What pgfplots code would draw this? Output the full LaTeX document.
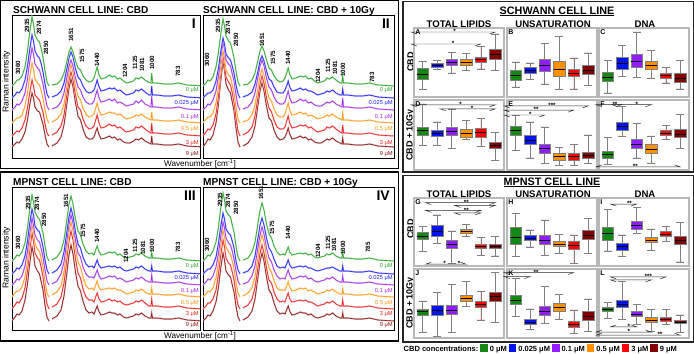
\documentclass[border=0pt]{standalone}
\usepackage{fontspec}
\setmainfont{Liberation Sans}
\usepackage{pgfplots}
\pgfplotsset{compat=1.18}
\usepgfplotslibrary{statistics}
\usepackage{pgfplotstable}

\definecolor{cg}{RGB}{40,165,40}
\definecolor{cb}{RGB}{30,30,255}
\definecolor{cp}{RGB}{160,40,230}
\definecolor{co}{RGB}{255,150,20}
\definecolor{cr}{RGB}{235,30,30}
\definecolor{cd}{RGB}{140,20,20}
\definecolor{fg}{RGB}{20,135,20}
\definecolor{fb}{RGB}{0,20,235}
\definecolor{fp}{RGB}{145,30,250}
\definecolor{fo}{RGB}{255,145,0}
\definecolor{fr}{RGB}{250,0,0}
\definecolor{fd}{RGB}{130,0,0}

\newcommand\fs[1]{\fontsize{#1bp}{#1bp}\selectfont}

% Schwann CBD (panel I): heights above each curve's own baseline
\pgfplotstableread{
u g b p o r d
0 0 0 0 0 0 0
3 3 3 3 3 3 3
5 6 6 6 5 5 5
7 6 5 5 5 4 4
10 10 9 9 8 8 8
13 19 18 17 17 16 15
15.5 35 32 31 30 28 27
17.5 52 47 47 45 42 41
20 69 63 62 60 56 54
21.5 62 57 56 54 50 49
23 51 47 46 44 41 40
25.5 46 42 42 40 38 36
27.5 44 40 40 38 36 35
29.5 36 33 32 31 29 28
31 29 26 26 25 24 23
33 15 14 14 13 12 12
35 4 4 4 4 3 3
37 0 0 0 0 0 0
38 nan nan nan nan nan nan
40 1 1 1 1 1 1
45 2 3 3 4 4 4
49 6 7 8 9 10 10
52 13 15 17 19 21 22
55 25 30 33 38 42 44
57 34 40 44 50 56 59
59 39 46 50 58 64 68
61 34 41 44 51 56 60
63.5 25 29 32 37 41 44
66 18 21 23 27 29 31
68.5 16 18 20 23 26 27
71 10 12 13 15 17 18
74 6 7 8 9 10 10
77 4 5 6 6 7 8
80 5 6 6 7 8 8
82 8 8 9 9 10 10
84 15 14 16 16 17 16
85.2 19 18 20 20 21 19
86.7 12 12 13 13 14 13
89 7 7 8 8 8 8
93 8 8 9 9 9 9
97.5 11 10 11 11 12 11
100 9 9 9 10 10 9
102.5 10 10 11 10 11 10
105.5 7 7 7 8 8 7
108 8 8 8 9 9 8
111.5 5 5 6 6 6 5
114.5 3 3 4 4 4 4
118 4 4 5 5 5 4
121.5 5 5 6 6 6 6
124 8 8 9 8 9 8
126.5 7 7 7 7 8 7
129.5 9 9 10 9 10 9
133 6 6 6 6 7 6
137 3.5 3 4 4 4 4
139 3 3 3 3 3 3
139.7 13 12 14 11 13 11
140.5 3 3 3 3 3 3
145 3 3 3 3 3 3
152 2 2 2 2 2 2
160 2 2 2 2 2 2
166.5 3 3 3 3 3 3
175 1 1 1 1 1 1
191 0 0 0 0 0 0
}\tabI

% Schwann CBD + 10Gy (panel II)
\pgfplotstableread{
u g b p o r d
0 0 0 0 0 0 0
3 3 3 3 4 4 4
5 6 5 6 6 7 8
7 5 5 5 6 6 7
10 9 8 10 10 11 12
13 19 17 19 20 22 24
15.5 34 30 34 36 40 43
17.5 50 45 51 54 60 64
20 67 60 68 72 80 85
21.5 60 54 61 65 72 77
23 50 44 50 53 59 63
25.5 45 40 46 48 54 57
27.5 43 38 44 46 51 54
29.5 35 31 35 37 42 44
31 28 25 29 30 34 36
33 15 13 15 16 18 19
35 4 4 4 4 5 5
37 0 0 0 0 0 0
38 nan nan nan nan nan nan
40 1 1 1 1 1 1
45 2 3 3 3 4 4
49 6 6 8 8 9 10
52 13 14 17 18 20 21
55 26 27 33 35 39 42
57 35 37 44 47 52 56
59 40 42 50 54 60 64
61 35 37 44 48 53 56
63.5 26 27 32 35 38 41
66 18 19 23 25 28 29
68.5 16 17 20 22 24 26
71 10 11 13 14 16 17
74 6 6 8 8 9 10
77 4 5 6 6 7 7
80 5 5 6 6 7 8
82 8 8 8 9 9 10
84 14 13 15 16 16 15
85.2 18 17 19 20 20 19
86.7 12 11 12 13 13 13
89 7 7 7 8 8 8
93 8 8 8 9 9 9
97.5 10 10 11 11 11 11
100 9 8 9 9 10 9
102.5 10 9 10 10 11 10
105.5 7 7 7 7 8 7
108 8 7 8 8 9 8
111.5 5 5 5 6 6 5
114.5 3 3 4 4 4 4
118 4 4 4 5 5 4
121.5 5 5 6 6 6 6
124 8 7 8 8 9 8
126.5 7 6 7 7 8 7
129.5 9 8 9 9 10 9
133 6 5 6 6 7 6
137 3 3 4 4 4 4
139 3 3 3 3 3 3
139.7 10 9 12 10 11 9
140.5 3 3 3 3 3 3
145 3 3 3 3 3 3
152 2 2 2 2 2 2
160 2 2 2 2 2 2
166.5 3 3 3 3 3 3
175 1 1 1 1 1 1
191 0 0 0 0 0 0
}\tabII

% MPNST CBD (panel III)
\pgfplotstableread{
u g b p o r d
0 0 0 0 0 0 0
3 3 3 3 4 4 4
5 6 6 6 6 7 7
7 5 5 5 6 6 6
10 9 9 9 10 11 10
13 18 18 19 20 21 21
15.5 33 33 34 36 38 37
17.5 50 49 50 54 57 56
20 66 65 67 72 76 74
21.5 59 59 60 65 68 67
23 49 48 50 53 56 55
25.5 44 44 45 48 51 50
27.5 42 42 43 46 49 47
29.5 34 34 35 37 40 38
31 28 27 28 30 32 31
33 15 14 15 16 17 16
35 4 4 4 4 5 4
37 0 0 0 0 0 0
38 nan nan nan nan nan nan
40 1 1 1 2 2 2
45 4 4 4 5 5 5
49 10 10 11 11 12 11
52 21 22 23 25 26 25
55 42 43 46 49 51 49
57 57 57 61 65 68 66
59 65 66 70 75 78 76
61 57 58 62 66 69 67
63.5 42 42 45 48 50 49
66 30 30 32 35 36 35
68.5 26 26 28 30 31 30
71 17 17 18 20 20 20
74 10 10 11 11 12 11
77 7 7 8 8 9 8
80 8 8 8 9 9 9
82 6 6 7 7 7 7
84 12 11 12 13 13 12
85.2 15 14 15 16 16 15
86.7 10 9 10 10 11 10
89 6 6 6 7 7 6
93 7 7 7 8 8 7
97.5 9 8 9 9 10 9
100 8 7 8 8 8 8
102.5 9 8 9 9 9 8
105.5 6 6 6 7 7 6
108 7 7 7 7 8 7
111.5 4 4 5 5 5 4
114.5 3 3 3 3 4 3
118 4 4 4 4 5 4
121.5 5 5 5 5 6 5
124 7 7 7 7 8 7
126.5 6 6 6 6 7 6
129.5 8 8 8 8 9 8
133 5 5 5 5 6 5
137 3 3 3 3 3 3
139 3 3 3 3 3 3
139.7 9 8 10 9 10 8
140.5 3 3 3 3 3 3
145 3 3 3 3 3 3
152 2 2 2 2 2 2
160 2 2 2 2 2 2
166.5 3 3 3 3 3 3
175 1 1 1 1 1 1
191 0 0 0 0 0 0
}\tabIII

% MPNST CBD + 10Gy (panel IV)
\pgfplotstableread{
u g b p o r d
0 0 0 0 0 0 0
3 3 3 3 3 3 3
5 6 5 6 6 6 6
7 5 5 5 5 6 5
10 10 9 9 9 10 10
13 19 17 18 19 19 19
15.5 34 31 32 34 35 34
17.5 51 46 47 50 52 51
20 68 61 63 67 69 68
21.5 61 55 57 60 62 61
23 50 45 47 50 51 50
25.5 46 41 42 45 46 46
27.5 44 39 40 43 44 44
29.5 35 32 33 35 36 35
31 29 26 26 28 29 29
33 15 13 14 15 15 15
35 4 4 4 4 4 4
37 0 0 0 0 0 0
38 nan nan nan nan nan nan
40 1 1 1 1 1 1
45 3 3 3 4 4 4
49 9 8 9 9 10 10
52 19 18 19 20 21 22
55 38 36 38 40 42 44
57 50 49 50 54 56 59
59 58 56 58 62 64 68
61 51 49 51 55 56 60
63.5 37 36 37 40 41 44
66 27 26 27 29 29 31
68.5 23 22 23 25 26 27
71 15 15 15 16 17 18
74 9 8 9 9 10 10
77 6 6 6 7 7 7
80 7 7 7 7 8 8
82 6 6 6 7 7 7
84 11 11 12 12 13 12
85.2 14 14 15 15 16 15
86.7 9 9 10 10 10 10
89 6 6 6 6 7 6
93 7 7 7 7 8 7
97.5 8 8 9 9 9 9
100 7 7 8 8 8 8
102.5 8 8 9 9 9 8
105.5 6 6 6 6 7 6
108 7 6 7 7 7 7
111.5 4 4 4 5 5 4
114.5 3 3 3 3 3 3
118 4 4 4 4 4 4
121.5 5 5 5 5 5 5
124 7 6 7 7 7 7
126.5 6 6 6 6 6 6
129.5 8 7 8 8 8 8
133 5 5 5 5 5 5
137 3 3 3 3 3 3
139 3 3 3 3 3 3
139.7 9 8 9 8 9 8
140.5 3 3 3 3 3 3
145 3 3 3 3 3 3
152 2 2 2 2 2 2
160 2 2 2 2 2 2
166.5 3 3 3 3 3 3
175 1 1 1 1 1 1
191 0 0 0 0 0 0
}\tabIV

\pgfplotsset{
  spx/.style={scale only axis, anchor=north west, height=143bp, xmin=0, ymin=0, ymax=143,
    xtick=\empty, ytick=\empty, axis line style={black, line width=0.7pt}, clip mode=individual},
  bxs/.style={scale only axis, anchor=north west, width=90bp, xmin=0.4, xmax=6.6, ymin=0,
    xtick=\empty, ytick=\empty, axis line style={black!28, line width=1.3pt}, clip=false,
    boxplot/draw direction=y},
  boxplot/every median/.style={draw=black, line width=0.5pt},
}

\newcommand\spc[4]{%
  \addplot[#3!35, line width=1.5pt, unbounded coords=jump] table[x=u, y expr=\thisrow{#2}+#4]{#1};
  \addplot[#3, line width=0.6pt, unbounded coords=jump] table[x=u, y expr=\thisrow{#2}+#4]{#1};}
\newcommand\sixS[1]{\spc{#1}{d}{cd}{11}\spc{#1}{r}{cr}{22}\spc{#1}{o}{co}{35}\spc{#1}{p}{cp}{48}\spc{#1}{b}{cb}{60}\spc{#1}{g}{cg}{72}}
\newcommand\sixM[1]{\spc{#1}{d}{cd}{9}\spc{#1}{r}{cr}{21}\spc{#1}{o}{co}{33}\spc{#1}{p}{cp}{45}\spc{#1}{b}{cb}{56}\spc{#1}{g}{cg}{69}}
\newcommand\cl[4]{\node[anchor=east, inner sep=0, text=#1, font=\fs{5.8}] at (axis cs:#2,#3) {#4};}
\newcommand\concS[1]{\cl{cg}{#1}{67.5}{0 μM}\cl{cb}{#1}{54.5}{0.025 μM}\cl{cp}{#1}{40.5}{0.1 μM}\cl{co}{#1}{28.5}{0.5 μM}\cl{cr}{#1}{14.5}{3 μM}\cl{cd}{#1}{3.8}{9 μM}}
\newcommand\concM[1]{\cl{cg}{#1}{63.5}{0 μM}\cl{cb}{#1}{51.5}{0.025 μM}\cl{cp}{#1}{38.5}{0.1 μM}\cl{co}{#1}{26.5}{0.5 μM}\cl{cr}{#1}{15.5}{3 μM}\cl{cd}{#1}{4.5}{9 μM}}
\newcommand\pk[3]{\node[rotate=90, anchor=west, inner sep=0.3bp, font=\bfseries\fs{6.2}] at (axis cs:#1,#2) {#3};}
\newcommand\rn[1]{\node[anchor=north east, inner sep=0, xshift=-4bp, yshift=-3.5bp, font=\bfseries\fs{14}] at (rel axis cs:1,1) {#1};}

\newcommand\bx[7]{\addplot[draw=black!50, fill=#2, line width=0.55pt,
  boxplot prepared={draw position=#1, lower whisker=#3, lower quartile=#4, median=#5,
  upper quartile=#6, upper whisker=#7, box extend=0.78, whisker extend=0.55}] coordinates {};}
\newcommand\brd[3]{\draw[black!85, line width=0.45pt] (axis cs:#1,#3) ++(0,-2bp) -- ++(0,2bp) -- (axis cs:#2,#3) -- ++(0,-2bp);}
\newcommand\bru[3]{\draw[black!85, line width=0.45pt] (axis cs:#1,#3) ++(0,2bp) -- ++(0,-2bp) -- (axis cs:#2,#3) -- ++(0,2bp);}
\newcommand\st[3]{\node[anchor=south, inner sep=0, text height=3.6bp, text depth=0pt, yshift=-1.9bp, font=\bfseries\fs{6.2}] at (axis cs:#1,#2) {#3};}
\newcommand\lt[1]{\node[anchor=north west, inner sep=1.2bp, font=\bfseries\fs{7}] at (rel axis cs:0,1) {#1};}
\newcommand\sw[1]{\hspace{2bp}\textcolor{#1}{\rule[-1.2bp]{7.5bp}{8.2bp}}\hspace{2bp}}

\begin{document}
\begin{tikzpicture}
\useasboundingbox (0,0) rectangle (694bp,-354bp);

% group frames
\draw[line width=1.1pt] (0.6bp,-0.6bp) rectangle (398.4bp,-168.5bp);
\draw[line width=1.1pt] (0.6bp,-172bp) rectangle (398.4bp,-341bp);
\draw[line width=1.3pt, black!85] (403bp,-1.5bp) rectangle (693.3bp,-172bp);
\draw[line width=1.3pt, black!85] (403bp,-175.5bp) rectangle (693.3bp,-342bp);

% left titles and axis labels
\begin{scope}[every node/.style={anchor=base west, inner sep=0, font=\bfseries\fs{10.1}}]
\node at (13bp,-13bp) {SCHWANN CELL LINE: CBD};
\node at (203bp,-13bp) {SCHWANN CELL LINE: CBD + 10Gy};
\node at (13bp,-185bp) {MPNST CELL LINE: CBD};
\node at (203bp,-185bp) {MPNST CELL LINE: CBD + 10Gy};
\end{scope}
\node[rotate=90, inner sep=0, font=\fs{8.6}] at (6.5bp,-82bp) {Raman intensity};
\node[rotate=90, inner sep=0, font=\fs{8.6}] at (6.5bp,-258bp) {Raman intensity};
\node[inner sep=0, font=\fs{8.2}] at (200bp,-163.5bp) {Wavenumber [cm\textsuperscript{-1}]};
\node[inner sep=0, font=\fs{8.2}] at (200bp,-335.5bp) {Wavenumber [cm\textsuperscript{-1}]};

% ---------- spectra ----------
\begin{axis}[spx, at={(12bp,-15bp)}, width=188bp, xmax=188]
\sixS{\tabI}
\pk{6}{83}{3060}\pk{15}{125}{2935}\pk{27}{123}{2874}\pk{34}{103}{2850}
\pk{59}{116}{1651}\pk{70}{95}{1575}\pk{85}{91}{1440}\pk{113}{80}{1204}
\pk{123}{88}{1125}\pk{130}{86}{1081}\pk{140}{88}{1000}\pk{166}{81}{783}
\concS{187}
\rn{I}
\end{axis}

\begin{axis}[spx, at={(203bp,-15bp)}, width=191bp, xmax=191]
\sixS{\tabII}
\pk{4}{91}{3060}\pk{15}{125}{2935}\pk{25}{123}{2874}\pk{33}{111}{2850}
\pk{59}{111}{1651}\pk{70}{93}{1575}\pk{85}{93}{1440}\pk{115}{75}{1204}
\pk{125}{85}{1125}\pk{132}{83}{1081}\pk{140}{81}{1000}\pk{169}{75}{783}
\concS{190}
\rn{II}
\end{axis}

\begin{axis}[spx, at={(12bp,-187bp)}, width=188bp, xmax=188]
\sixM{\tabIII}
\pk{6}{80}{3060}\pk{16}{120}{2935}\pk{25}{119}{2874}\pk{32}{103}{2850}
\pk{54}{122}{1651}\pk{71}{92}{1575}\pk{85}{87}{1440}\pk{114}{67}{1204}
\pk{123}{77}{1125}\pk{131}{75}{1081}\pk{140}{77}{1000}\pk{166}{77}{783}
\concM{187}
\rn{III}
\end{axis}

\begin{axis}[spx, at={(203bp,-187bp)}, width=191bp, xmax=191]
\sixM{\tabIV}
\pk{4}{78}{3060}\pk{17}{123}{2935}\pk{25}{122}{2874}\pk{33}{115}{2850}
\pk{58}{130}{1651}\pk{69}{95}{1575}\pk{85}{90}{1440}\pk{115}{72}{1204}
\pk{125}{80}{1125}\pk{131}{78}{1081}\pk{140}{75}{1000}\pk{165}{77}{785}
\concM{190}
\rn{IV}
\end{axis}

% ---------- right side titles ----------
\node[anchor=base, inner sep=0, font=\bfseries\fs{10.8}] at (557bp,-14bp) {\underline{SCHWANN CELL LINE}};
\node[anchor=base, inner sep=0, font=\bfseries\fs{10.8}] at (552bp,-185bp) {\underline{MPNST CELL LINE}};
\begin{scope}[every node/.style={anchor=base, inner sep=0, font=\bfseries\fs{9.6}}]
\node at (459bp,-27bp) {TOTAL LIPIDS};
\node at (553bp,-27bp) {UNSATURATION};
\node at (645bp,-27bp) {DNA};
\node at (459bp,-197bp) {TOTAL LIPIDS};
\node at (553bp,-197bp) {UNSATURATION};
\node at (645bp,-197bp) {DNA};
\end{scope}
\begin{scope}[every node/.style={rotate=90, inner sep=0, font=\bfseries\fs{9}}]
\node at (410.5bp,-62bp) {CBD};
\node at (410.5bp,-135bp) {CBD + 10Gy};
\node at (410.5bp,-229bp) {CBD};
\node at (410.5bp,-303bp) {CBD + 10Gy};
\end{scope}

% ---------- box plots: Schwann ----------
\begin{axis}[bxs, at={(414bp,-28bp)}, height=69bp, ymax=69]
\bx{1}{fg}{7.3}{17.3}{23}{28.3}{35.7}
\bx{2}{fb}{27.3}{29.3}{31.7}{33.3}{36.3}
\bx{3}{fp}{24}{31.7}{34.7}{37.3}{44.7}
\bx{4}{fo}{26.7}{32}{35}{37.3}{43.3}
\bx{5}{fr}{28}{34.7}{37.3}{39.7}{50.7}
\bx{6}{fd}{26.7}{37.3}{43}{47.3}{63}
\brd{1}{6}{65}\st{3.2}{65}{*}
\brd{1}{5}{53}\st{3.1}{53}{*}
\lt{A}
\end{axis}
\begin{axis}[bxs, at={(507bp,-28bp)}, height=69bp, ymax=69]
\bx{1}{fg}{10}{16.7}{21.7}{26.7}{35}
\bx{2}{fb}{17.3}{24}{26.7}{29.7}{34}
\bx{3}{fp}{13}{25.7}{31.3}{37.3}{53.3}
\bx{4}{fo}{8}{20.7}{28}{35.7}{60.7}
\bx{5}{fr}{8}{20.7}{24}{28}{39}
\bx{6}{fd}{11.3}{22.3}{26.7}{31.3}{44}
\lt{B}
\end{axis}
\begin{axis}[bxs, at={(599bp,-28bp)}, height=69bp, ymax=69]
\bx{1}{fg}{4}{15.7}{20}{25}{36.3}
\bx{2}{fb}{20.7}{27.3}{33.3}{40}{51.3}
\bx{3}{fp}{19.7}{29.7}{35.7}{42.3}{65}
\bx{4}{fo}{19}{28}{31.7}{35.7}{46.7}
\bx{5}{fr}{14}{19}{21.3}{23.3}{29.7}
\bx{6}{fd}{8}{15}{18.3}{23.3}{36.3}
\lt{C}
\end{axis}
\begin{axis}[bxs, at={(414bp,-100bp)}, height=70bp, ymax=71.3]
\bx{1}{fg}{25}{35.7}{40}{44}{67.3}
\bx{2}{fb}{25}{34}{37.3}{40.7}{49}
\bx{3}{fp}{22.3}{35.7}{39.7}{44}{62.3}
\bx{4}{fo}{31.3}{33.3}{37.3}{41.3}{50.7}
\bx{5}{fr}{24}{33.3}{38}{42.3}{52.3}
\bx{6}{fd}{10}{22.3}{25}{28}{38}
\brd{1}{6}{66.3}\st{3.6}{66.3}{*}
\brd{3}{6}{62.3}\st{4.4}{62.3}{*}
\lt{D}
\end{axis}
\begin{axis}[bxs, at={(507bp,-100bp)}, height=70bp, ymax=71.3]
\bx{1}{fg}{20}{35.7}{40}{44.7}{55.7}
\bx{2}{fb}{12.3}{26.7}{30.7}{35.7}{49}
\bx{3}{fp}{6.7}{17.3}{21.7}{26.7}{44}
\bx{4}{fo}{5}{10}{14}{16.7}{23.3}
\bx{5}{fr}{5}{10}{14}{17.3}{25.7}
\bx{6}{fd}{6.7}{12.3}{15.3}{18}{35.7}
\brd{1}{6}{65.3}\st{3.5}{65.3}{***}
\brd{1}{5}{61}\st{2.4}{61}{**}
\brd{1}{3}{56}\st{2}{56}{*}
\lt{E}
\end{axis}
\begin{axis}[bxs, at={(599bp,-100bp)}, height=70bp, ymax=71.3]
\bx{1}{fg}{5.7}{12.3}{16.3}{19}{33.3}
\bx{2}{fb}{34}{40}{44.7}{49}{64.7}
\bx{3}{fp}{12.3}{22.3}{26.7}{31.3}{47.3}
\bx{4}{fo}{7.3}{16.7}{21.3}{26.7}{34.7}
\bx{5}{fr}{31.3}{35}{37.3}{40}{45.7}
\bx{6}{fd}{21.7}{33}{36.7}{41.3}{56.3}
\brd{1}{1.95}{66.5}\st{1.5}{66.5}{**}
\brd{2.1}{4}{66.5}\st{3}{66.5}{*}
\bru{1}{6}{3.2}\st{2.9}{3.2}{**}
\lt{F}
\end{axis}

% ---------- box plots: MPNST ----------
\begin{axis}[bxs, at={(414bp,-198bp)}, height=68bp, ymax=67.3]
\bx{1}{fg}{14.7}{26.3}{29.7}{33}{39}
\bx{2}{fb}{22.3}{29.7}{34.7}{40.7}{50.7}
\bx{3}{fp}{2.3}{18}{21.7}{25}{34.7}
\bx{4}{fo}{29.7}{32.3}{34.7}{36.3}{41.3}
\bx{5}{fr}{10.7}{17.3}{19.7}{21.7}{28}
\bx{6}{fd}{10}{17.3}{19.7}{21.7}{29}
\brd{2}{6}{62.7}\st{4}{62.7}{**}
\brd{4}{6}{60}
\brd{2}{5}{55}\st{4}{55}{**}
\brd{4}{5}{52.5}
\bru{2}{4}{1.8}\st{2.5}{1.8}{*}\st{3.5}{1.8}{*}
\lt{G}
\end{axis}
\begin{axis}[bxs, at={(507bp,-198bp)}, height=68bp, ymax=67.3]
\bx{1}{fg}{9.7}{21.3}{28.3}{38}{52.3}
\bx{2}{fb}{19}{25}{27.3}{30}{35.7}
\bx{3}{fp}{10.7}{21.3}{25.7}{30}{45.7}
\bx{4}{fo}{13}{19.7}{22}{24}{31.3}
\bx{5}{fr}{2.3}{16.7}{20.7}{24.7}{30.7}
\bx{6}{fd}{12.3}{26.7}{30.7}{35}{47.3}
\lt{H}
\end{axis}
\begin{axis}[bxs, at={(599bp,-198bp)}, height=68bp, ymax=67.3]
\bx{1}{fg}{15}{25.7}{32.3}{38.3}{55.7}
\bx{2}{fb}{9.7}{15.7}{19.7}{22.3}{30.7}
\bx{3}{fp}{32.3}{36.7}{40}{44}{58.3}
\bx{4}{fo}{15.7}{23}{25.7}{28.3}{36.7}
\bx{5}{fr}{24}{29.7}{31.7}{34}{39}
\bx{6}{fd}{4}{21.3}{25.7}{29.7}{43.3}
\brd{2}{3}{61.3}\st{2.5}{61.3}{**}
\lt{I}
\end{axis}
\begin{axis}[bxs, at={(414bp,-269bp)}, height=69bp, ymax=69.3]
\bx{1}{fg}{6}{23.3}{26.7}{29.3}{37.3}
\bx{2}{fb}{1.7}{23.3}{28.3}{33.3}{45.7}
\bx{3}{fp}{5.7}{24}{28.3}{32.7}{54}
\bx{4}{fo}{31.7}{37.3}{40}{42.7}{56.7}
\bx{5}{fr}{18.3}{31}{34}{37.3}{46.7}
\bx{6}{fd}{16}{36.7}{41.7}{46}{66}
\lt{J}
\end{axis}
\begin{axis}[bxs, at={(507bp,-269bp)}, height=69bp, ymax=69.3]
\bx{1}{fg}{21.7}{34}{38}{42.7}{60}
\bx{2}{fb}{8.3}{13.3}{16.3}{19.3}{29.3}
\bx{3}{fp}{15}{23.3}{27.3}{32.3}{51.7}
\bx{4}{fo}{19.3}{27.3}{31}{35}{44}
\bx{5}{fr}{5}{11}{14.3}{17.3}{28.3}
\bx{6}{fd}{6.7}{17.7}{21.7}{26.7}{39.3}
\brd{1}{5}{65.7}\st{2.4}{65.7}{**}
\brd{1}{2}{61.7}
\lt{K}
\end{axis}
\begin{axis}[bxs, at={(599bp,-269bp)}, height=69bp, ymax=69.3]
\bx{1}{fg}{20}{27.3}{29}{30.7}{36}
\bx{2}{fb}{19}{30.7}{34.3}{38.3}{56.7}
\bx{3}{fp}{14}{21.7}{24}{26.7}{34}
\bx{4}{fo}{6.7}{16}{18.3}{20.7}{29}
\bx{5}{fr}{13.3}{16.7}{19}{20.7}{29}
\bx{6}{fd}{6}{14.3}{16.3}{18.3}{23.3}
\brd{2}{5}{61.3}\st{3.8}{61.3}{***}
\brd{2}{4}{58.3}
\bru{2}{3}{11.2}\st{2.45}{11.2}{*}
\bru{1}{4}{6}\st{2.45}{6}{*}
\bru{1}{6}{2.8}\st{4.6}{2.8}{**}
\lt{L}
\end{axis}

% legend
\node[anchor=base west, inner sep=0, font=\bfseries\fs{7.5}] at (403.5bp,-351bp)
 {CBD concentrations:\sw{fg}0 μM\sw{fb}0.025 μM\sw{fp}0.1 μM\sw{fo}0.5 μM\sw{fr}3 μM\sw{fd}9 μM};
\end{tikzpicture}
\end{document}
